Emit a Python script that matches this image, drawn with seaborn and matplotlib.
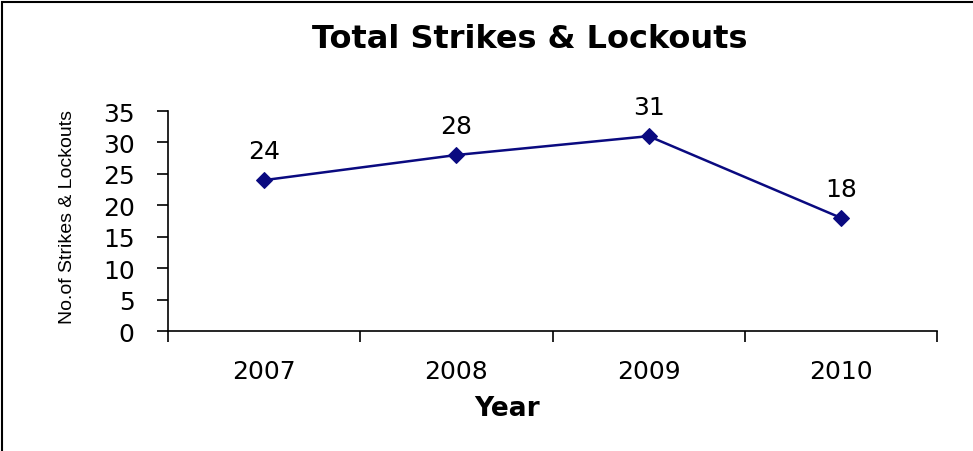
import pandas as pd
import seaborn as sns
import matplotlib
matplotlib.use("Agg")
import matplotlib.pyplot as plt
from matplotlib.patches import Rectangle

years = ["2007", "2008", "2009", "2010"]
strikes = [24, 28, 31, 18]

title = "Total Strikes & Lockouts"
xlabel = "Year"
ylabel = "No.of Strikes & Lockouts"

df = pd.DataFrame({"Year": years, "Strikes": strikes})

sns.set_style("white")
plt.rcParams['font.family'] = ['DejaVu Sans']
plt.rcParams['text.color'] = 'black'
plt.rcParams['xtick.color'] = 'black'
plt.rcParams['ytick.color'] = 'black'

fig = plt.figure(figsize=(9.73, 4.52), dpi=100)
ax = fig.add_axes([168/973, 1-332/452, 769/973, 220/452])

line_col = "#0a0a80"
sns.lineplot(data=df, x="Year", y="Strikes", ax=ax, color=line_col,
             marker="D", markersize=8, markeredgecolor=line_col, lw=1.8)

for i, v in enumerate(strikes):
    ax.annotate(str(v), (i, v), xytext=(0, 21), textcoords="offset points",
                ha="center", va="center", fontsize=18, color="black")

ax.set_xlim(-0.5, len(years) - 0.5)
ax.set_ylim(0, 35)
ax.set_yticks(range(0, 36, 5))
ax.set_xticks(range(len(years)))
ax.set_xticklabels(years)
ax.set_xticks([i - 0.5 for i in range(len(years) + 1)], minor=True)
ax.tick_params(axis="x", which="major", length=0, pad=20, labelsize=18)
ax.tick_params(axis="x", which="minor", length=8, width=1.2, direction="out", bottom=True)
ax.tick_params(axis="y", length=8, width=1.2, direction="out", left=True, pad=16, labelsize=18)
ax.set_xlabel("")
ax.set_ylabel("")

for s in ["top", "right"]:
    ax.spines[s].set_visible(False)
for s in ["left", "bottom"]:
    ax.spines[s].set_color("black")
    ax.spines[s].set_linewidth(1.2)

fig.text(530/973, 1-39/452, title, ha="center", va="center",
         fontsize=23, fontweight="bold")
fig.text(507/973, 1-409/452, xlabel, ha="center", va="center",
         fontsize=19, fontweight="bold")
fig.text(67/973, 1-217/452, ylabel, ha="center", va="center", rotation=90,
         fontsize=14, family=["Liberation Sans", "DejaVu Sans"])

fig.patches.append(Rectangle((2/973, -0.1), 1.1, 1.1 - 3/452, transform=fig.transFigure,
                             fill=False, ec="black", lw=1.5))

fig.savefig("out.png", dpi=100)
